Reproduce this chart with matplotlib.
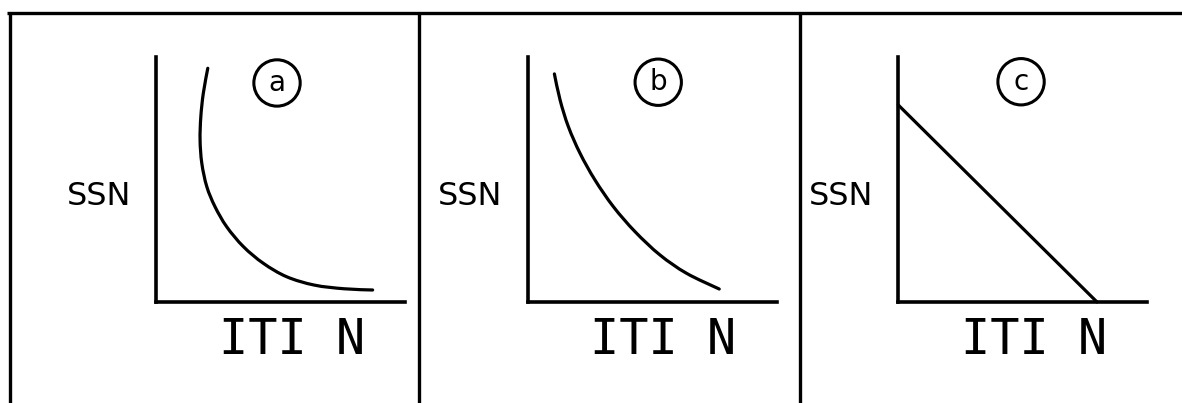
import matplotlib
matplotlib.use("Agg")
import matplotlib.pyplot as plt
from matplotlib.path import Path
from matplotlib.patches import PathPatch

# Sketched relationships between ITIN count and SSN count
panel_labels = ["a", "b", "c"]
x_label = "ITI N"
y_label = "SSN"

itin_a = [2.08, 1.90, 1.80, 1.77, 1.84, 2.04, 2.37, 2.84, 3.51, 4.31, 5.25, 6.36, 7.56, 8.70]
ssn_a = [9.54, 8.52, 7.56, 6.61, 5.66, 4.71, 3.89, 3.07, 2.26, 1.58, 1.03, 0.69, 0.54, 0.49]

itin_b = [1.08, 1.31, 1.64, 2.11, 2.71, 3.45, 4.32, 5.32, 6.39, 7.70]
ssn_b = [9.31, 8.24, 7.16, 6.07, 4.98, 3.89, 2.87, 1.92, 1.17, 0.53]

itin_c = [0.0, 7.98]
ssn_c = [8.04, 0.0]

W, H = 1182, 403
fig = plt.figure(figsize=(W / 100, H / 100), dpi=100)
fig.patch.set_facecolor("white")


def px_rect(left, top, width, height):
    return [left / W, 1 - (top + height) / H, width / W, height / H]


def smooth_path(xs, ys):
    """Cubic Bezier path passing through every given point (Catmull-Rom tangents)."""
    pts = list(zip(xs, ys))
    if len(pts) < 3:
        return Path(pts, [Path.MOVETO] + [Path.LINETO] * (len(pts) - 1))
    verts = [pts[0]]
    codes = [Path.MOVETO]
    n = len(pts)
    for i in range(n - 1):
        p0 = pts[i - 1] if i > 0 else pts[i]
        p1 = pts[i]
        p2 = pts[i + 1]
        p3 = pts[i + 2] if i + 2 < n else pts[i + 1]
        c1 = (p1[0] + (p2[0] - p0[0]) / 6, p1[1] + (p2[1] - p0[1]) / 6)
        c2 = (p2[0] - (p3[0] - p1[0]) / 6, p2[1] - (p3[1] - p1[1]) / 6)
        verts += [c1, c2, p2]
        codes += [Path.CURVE4] * 3
    return Path(verts, codes)


# frame lines around the three panels
bg = fig.add_axes([0, 0, 1, 1])
bg.set_xlim(0, W)
bg.set_ylim(H, 0)
bg.axis("off")
bg.plot([7, W], [13, 13], color="black", lw=2.4, solid_capstyle="butt")
for xv in [10, 418.5, 800]:
    bg.plot([xv, xv], [13, H], color="black", lw=2.4, solid_capstyle="butt")

panels = [
    (156.0, itin_a, ssn_a, (4.86, 8.94)),
    (527.5, itin_b, ssn_b, (5.25, 8.97)),
    (898.3, itin_c, ssn_c, (4.93, 8.99)),
]

for label, (left, xs, ys, badge) in zip(panel_labels, panels):
    ax = fig.add_axes(px_rect(left, 57, 249, 245))
    ax.set_xlim(0, 10)
    ax.set_ylim(0, 10)
    ax.patch.set_alpha(0)
    for side in ["top", "right"]:
        ax.spines[side].set_visible(False)
    for side in ["left", "bottom"]:
        ax.spines[side].set_linewidth(2.6)
        ax.spines[side].set_capstyle("projecting")
    ax.set_xticks([])
    ax.set_yticks([])

    ax.add_patch(PathPatch(smooth_path(xs, ys), fc="none", ec="black", lw=2.3,
                           capstyle="round", joinstyle="round", clip_on=False))

    ax.text(badge[0], badge[1], label, ha="center", va="center",
            fontsize=20, family="DejaVu Sans",
            bbox=dict(boxstyle="circle,pad=0.33", fc="none", ec="black", lw=2.2))

    ax.annotate(y_label, xy=(0, 0), xycoords="axes fraction",
                xytext=(-57, 97), textcoords="offset pixels",
                ha="center", va="baseline", fontsize=23, family="DejaVu Sans")

    ax.annotate(x_label, xy=(0, 0), xycoords="axes fraction",
                xytext=(136, -52), textcoords="offset pixels",
                ha="center", va="baseline", fontsize=35, family="DejaVu Sans Mono")

fig.savefig("out.png", dpi=100, facecolor="white")
